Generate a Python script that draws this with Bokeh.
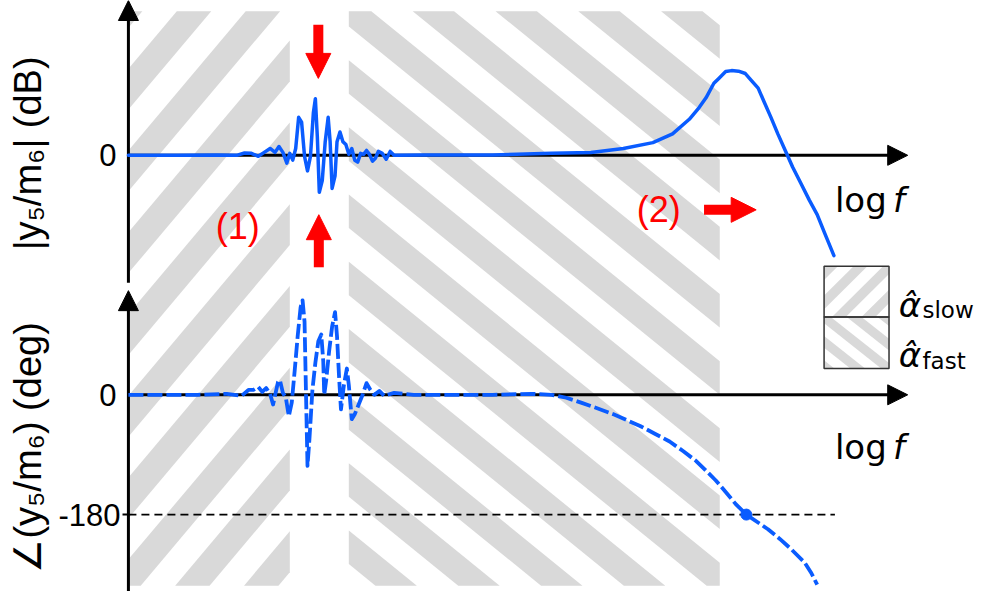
import numpy as np
from bokeh.plotting import figure
from bokeh.models import Range1d, Arrow, NormalHead
from bokeh.core.properties import value
from bokeh.embed import file_html
from bokeh.resources import INLINE

# ---------------- data ----------------
# magnitude |y5/m6| in dB vs log f (decades, arbitrary origin)
mag_logf = [0.00, 0.50, 0.90, 1.10, 1.18, 1.25, 1.32, 1.38, 1.44, 1.49, 1.53, 1.57, 1.61, 1.64,
            1.67, 1.70, 1.73, 1.76, 1.79, 1.82, 1.85, 1.88, 1.90, 1.92, 1.94, 1.97, 2.00, 2.03,
            2.05, 2.07, 2.10, 2.12, 2.15, 2.18, 2.21, 2.24, 2.27, 2.30, 2.33, 2.36, 2.39, 2.42,
            2.45, 2.48, 2.51, 2.54, 2.58, 2.62, 2.66, 2.70, 3.00, 3.70, 4.30, 4.70, 5.03, 5.33,
            5.53, 5.70, 5.80, 5.87, 5.95, 6.00, 6.07, 6.13, 6.20, 6.27, 6.33, 6.40, 6.46, 6.53,
            6.60, 6.68, 6.75, 6.83, 6.92, 7.00, 7.08, 7.17]
mag_db = [0.0, 0.0, 0.1, 0.0, 0.6, 0.5, -0.25, 0.75, 1.75, 0.75, 2.25, 0.75, -2.0, 0.5,
          -1.25, 1.75, 9.75, 8.5, -0.25, -4.0, -0.25, 11.0, 14.5, 4.75, -9.5, -6.5, 3.5, 9.75,
          3.5, -8.5, -5.25, 3.5, 6.0, 3.5, 2.75, 0.25, 1.75, -1.25, -1.75, 0.5, 0.25, 1.25,
          0.25, -1.5, -0.75, 1.0, 0.5, -1.0, 1.0, 0.0, 0.1, 0.1, 0.5, 0.75, 1.75, 3.25,
          5.5, 9.25, 12.25, 14.75, 18.5, 19.75, 21.5, 21.75, 21.6, 21.0, 19.25, 17.25, 13.75, 9.75,
          5.5, 1.0, -3.0, -7.0, -11.5, -15.25, -20.25, -25.75]

# phase angle(y5/m6) in degrees vs log f
phase_logf = [0.00, 0.70, 1.00, 1.15, 1.22, 1.27, 1.32, 1.36, 1.40, 1.44, 1.47, 1.52, 1.54, 1.57,
              1.60, 1.63, 1.66, 1.69, 1.72, 1.75, 1.77, 1.79, 1.80, 1.82, 1.84, 1.87, 1.90, 1.93,
              1.96, 1.98, 1.99, 2.01, 2.04, 2.07, 2.10, 2.12, 2.14, 2.16, 2.19, 2.22, 2.24, 2.27,
              2.30, 2.34, 2.38, 2.42, 2.46, 2.50, 2.55, 2.60, 2.70, 2.90, 3.70, 4.10, 4.30, 4.45,
              4.60, 4.77, 4.93, 5.20, 5.35, 5.50, 5.64, 5.77, 5.87, 5.97, 6.07, 6.17, 6.28, 6.50,
              6.62, 6.73, 6.87, 6.94, 7.00]
phase_deg = [0.0, 0.0, 1.5, -1.5, 7.3, 7.3, 11.7, 4.4, 10.2, 1.5, -14.6, 19.0, 22.0, 2.9,
             -4.4, -32.2, -11.7, 36.6, 87.8, 131.7, 142.0, 109.8, 36.6, -106.8, -65.9, 7.3, 48.3, 80.5,
             90.7, 51.2, 0.0, 22.0, 65.9, 102.4, 124.4, 87.8, 29.3, -22.0, 14.6, 39.5, 14.6, -36.6,
             -29.3, -14.6, 0.0, 17.6, 7.3, 0.0, 5.9, -1.5, 2.9, 0.0, 0.0, 1.5, 0.0, -4.4,
             -11.7, -20.5, -29.3, -46.8, -58.5, -70.2, -84.9, -99.5, -114.0, -128.8, -146.0, -163.9, -180.0, -202.0,
             -216.6, -231.2, -251.7, -267.8, -285.4]

# -180 deg crossing point
cross_logf = [6.28]
cross_deg = [-180.0]

# hatched frequency bands (log f)
slow_band = [0.0, 1.64]
fast_band = [2.24, 6.01]

mag_ticks = ["0"]
phase_ticks = ["0", "-180"]
phase_tick_values = [0, -180]

# ---------------- layout constants (reference pixels) ----------------
W, H = 998, 607
X0, PX_DEC = 130.0, 100.0           # log f origin / px per decade
MAG0, PX_DB = 159.0, 4.0            # 0 dB line / px per dB
PH0, PX_DEG = 405.0, 123.0 / 180.0  # 0 deg line / px per degree

BLUE = "#0a5cff"
RED = "#ff0000"
GRAY = "#d9d9d9"

p = figure(width=982, height=591, output_backend="svg", toolbar_location=None,
           x_range=Range1d(0, W), y_range=Range1d(H, 0),
           x_axis_location=None, y_axis_location=None,
           min_border=0, min_border_left=0, min_border_right=0,
           min_border_top=0, min_border_bottom=0)
p.outline_line_color = None
p.grid.visible = False
p.background_fill_color = "white"
p.border_fill_color = "white"

p.extra_x_ranges = {"logf": Range1d((0 - X0) / PX_DEC, (W - X0) / PX_DEC)}
p.extra_y_ranges = {
    "mag": Range1d((MAG0 - H) / PX_DB, (MAG0 - 0) / PX_DB),
    "phase": Range1d((PH0 - H) / PX_DEG, (PH0 - 0) / PX_DEG),
}


def lx(v):
    return X0 + PX_DEC * v


# ---------------- stripes ----------------
def clip(poly, x0, x1, y0, y1):
    def clip_edge(pts, inside, inter):
        out = []
        for i in range(len(pts)):
            cur, prev = pts[i], pts[i - 1]
            if inside(cur):
                if not inside(prev):
                    out.append(inter(prev, cur))
                out.append(cur)
            elif inside(prev):
                out.append(inter(prev, cur))
        return out

    def ix(xc):
        return lambda a, b: (xc, a[1] + (b[1] - a[1]) * (xc - a[0]) / (b[0] - a[0]))

    def iy(yc):
        return lambda a, b: (a[0] + (b[0] - a[0]) * (yc - a[1]) / (b[1] - a[1]), yc)

    pts = poly
    for inside, inter in [(lambda q: q[0] >= x0, ix(x0)), (lambda q: q[0] <= x1, ix(x1)),
                          (lambda q: q[1] >= y0, iy(y0)), (lambda q: q[1] <= y1, iy(y1))]:
        if not pts:
            break
        pts = clip_edge(pts, inside, inter)
    return pts


def stripes(x0, x1, y0, y1, sx, period, c0, width):
    cs = [y - sx * x for x in (x0, x1) for y in (y0, y1)]
    kmin = int(np.floor((min(cs) - width - c0) / period)) - 1
    kmax = int(np.ceil((max(cs) - c0) / period)) + 1
    xs, ys = [], []
    for k in range(kmin, kmax + 1):
        ca = c0 + k * period
        cb = ca + width
        poly = [(x0, sx * x0 + ca), (x1, sx * x1 + ca), (x1, sx * x1 + cb), (x0, sx * x0 + cb)]
        q = clip(poly, x0, x1, y0, y1)
        if len(q) >= 3:
            xs.append([a for a, _ in q])
            ys.append([b for _, b in q])
    return xs, ys


TOP, BOT = 11.0, 601.0
xs1, ys1 = stripes(lx(slow_band[0]), lx(slow_band[1]), TOP, BOT, -1.2, 84.0, 226.0, 42.0)
xs2, ys2 = stripes(lx(fast_band[0]), lx(fast_band[1]), TOP, BOT, 0.82, 69.0, -505.0, 34.5)
p.patches(xs1 + xs2, ys1 + ys2, fill_color=GRAY, line_color=None)

# legend boxes
LX0, LX1 = 837.0, 903.0
xs3, ys3 = stripes(LX0, LX1, 273.0, 325.0, -1.0, 30.0, 0.0, 14.0)
xs4, ys4 = stripes(LX0, LX1, 325.0, 378.0, 0.8, 25.0, 0.0, 12.0)
p.patches(xs3 + xs4, ys3 + ys4, fill_color=GRAY, line_color=None)
p.quad(left=[LX0, LX0], right=[LX1, LX1], top=[273.0, 325.0], bottom=[325.0, 378.0],
       fill_color=None, line_color="#333333", line_width=1.5)

# ---------------- axes (arrows) ----------------
AXW = 3
p.segment(x0=[X0, X0], y0=[290, H], x1=[X0, X0], y1=[18, 316], line_color="black", line_width=AXW)
p.segment(x0=[X0, X0], y0=[MAG0, PH0], x1=[904, 904], y1=[MAG0, PH0], line_color="black", line_width=AXW)
for (xs_, ys_, xe, ye) in [(X0, 20, X0, 0), (X0, 318, X0, 298), (902, MAG0, 922, MAG0), (902, PH0, 922, PH0)]:
    p.add_layout(Arrow(x_start=xs_, y_start=ys_, x_end=xe, y_end=ye, line_alpha=0,
                       end=NormalHead(size=20, fill_color="black", line_color="black", line_width=1)))

# -180 tick
p.segment(x0=[124], y0=[PH0 + 180 * PX_DEG], x1=[X0], y1=[PH0 + 180 * PX_DEG], line_color="black", line_width=2)

# -180 reference line
p.line(x=[0, 7.18], y=[cross_deg[0], cross_deg[0]], x_range_name="logf", y_range_name="phase",
       line_color="black", line_width=1.6, line_dash="8 5")

# ---------------- curves ----------------
p.line(x=mag_logf, y=mag_db, x_range_name="logf", y_range_name="mag",
       line_color=BLUE, line_width=3.5, line_join="round", line_cap="round")
p.line(x=phase_logf, y=phase_deg, x_range_name="logf", y_range_name="phase",
       line_color=BLUE, line_width=3.8, line_dash="15 4", line_join="round")
p.scatter(x=cross_logf, y=cross_deg, x_range_name="logf", y_range_name="phase",
          size=11, fill_color=BLUE, line_color=BLUE)

# ---------------- red arrows ----------------
for (x0_, y0_, x1_, y1_, xe, ye) in [(323, 25, 323, 56, 323, 80), (323.5, 274, 323.5, 244, 323.5, 220),
                                     (715, 215, 744, 215, 768, 215)]:
    p.segment(x0=[x0_], y0=[y0_], x1=[x1_], y1=[y1_], line_color=RED, line_width=10)
    p.add_layout(Arrow(x_start=x1_, y_start=y1_, x_end=xe, y_end=ye, line_alpha=0,
                       end=NormalHead(size=25, fill_color=RED, line_color=RED, line_width=1)))

# ---------------- texts ----------------
LS = value("Liberation Sans")
DJ = value("DejaVu Sans")
p.text(x=[118], y=[MAG0], text=mag_ticks, text_font=LS, text_font_size="31px",
       text_align="right", text_baseline="middle", text_color="black")
p.text(x=[118, 122], y=[PH0 - v * PX_DEG for v in phase_tick_values], text=phase_ticks,
       text_font=LS, text_font_size="31px", text_align="right", text_baseline="middle", text_color="black")
p.text(x=[28, 28], y=[157, 459], text=["|y\u2085/m\u2086| (dB)", "\u2220(y\u2085/m\u2086) (deg)"],
       angle=np.pi / 2, text_font=LS, text_font_size="38px", text_align="center",
       text_baseline="middle", text_color="black")
p.text(x=[848, 848], y=[205, 459], text=["log", "log"], text_font=DJ, text_font_size="34px",
       text_align="left", text_baseline="alphabetic", text_color="black")
p.text(x=[907, 907], y=[205, 459], text=["f", "f"], text_font=DJ, text_font_size="34px",
       text_font_style="italic", text_align="left", text_baseline="alphabetic", text_color="black")
p.text(x=[241, 669], y=[232, 215], text=["(1)", "(2)"], text_font=LS, text_font_size="36px",
       text_align="center", text_baseline="middle", text_color=RED)
p.text(x=[913, 913], y=[313, 364], text=["\u03b1\u0302", "\u03b1\u0302"], text_font=DJ,
       text_font_size="34px", text_font_style="italic", text_align="left",
       text_baseline="alphabetic", text_color="black")
p.text(x=[937, 937], y=[318, 370], text=["slow", "fast"], text_font=DJ, text_font_size="23px",
       text_align="left", text_baseline="alphabetic", text_color="black")

open("out.html", "w").write(file_html(p, INLINE))
